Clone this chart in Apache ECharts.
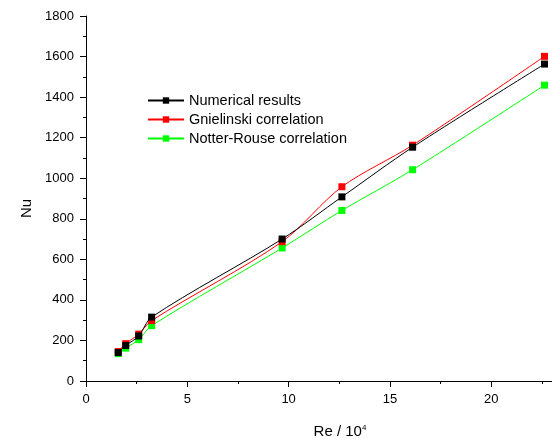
<!DOCTYPE html>
<html>
<head>
<meta charset="utf-8">
<script src="https://cdn.jsdelivr.net/npm/echarts@6/dist/echarts.min.js"></script>
<style>html,body{margin:0;padding:0;background:#fff;overflow:hidden}#c{width:552px;height:439px}</style>
</head>
<body>
<div id="c"></div>
<script>
const reValues = [1.59, 1.96, 2.6, 3.24, 9.68, 12.63, 16.12, 22.63];
const numerical = [140, 175, 222, 315, 700, 908, 1153, 1563];
const gnielinski = [145, 184, 231, 298, 687, 958, 1163, 1601];
const notterRouse = [135, 162, 204, 273, 656, 841, 1042, 1459];
const seriesNames = ['Numerical results', 'Gnielinski correlation', 'Notter-Rouse correlation'];
const seriesColors = ['#000000', '#ff0000', '#00ff00'];
const seriesValues = [numerical, gnielinski, notterRouse];

const FONT = 'Liberation Sans, Arial, sans-serif';
const chart = echarts.init(document.getElementById('c'), null, {renderer: 'canvas'});
chart.setOption({
  animation: false,
  backgroundColor: '#fff',
  grid: {left: 86, top: 16, width: 466, height: 365, containLabel: false, outerBoundsMode: 'none'},
  legend: {
    orient: 'vertical', left: 147, top: 93, itemGap: 4, padding: 0,
    itemWidth: 36, itemHeight: 8,
    textStyle: {fontFamily: FONT, fontSize: 14.5, color: '#000'},
    data: seriesNames
  },
  xAxis: {
    type: 'value', min: 0, max: 23, interval: 5,
    name: '{a|Re / 10}{s|4}', nameLocation: 'middle', nameGap: 43,
    nameTextStyle: {padding: [0, 0, 0, 42], rich: {a: {fontFamily: FONT, fontSize: 15, color: '#000'}, s: {fontFamily: FONT, fontSize: 8, color: '#000', verticalAlign: 'top', padding: [0, 0, 8, 0]}}},
    axisLine: {show: true, onZero: false, lineStyle: {color: '#000', width: 1}},
    axisTick: {show: true, length: 6, lineStyle: {color: '#000'}},
    minorTick: {show: true, splitNumber: 2, length: 3, lineStyle: {color: '#000'}},
    axisLabel: {fontFamily: FONT, fontSize: 13, color: '#000', margin: 12, showMaxLabel: false},
    splitLine: {show: false}
  },
  yAxis: {
    type: 'value', min: 0, max: 1800, interval: 200,
    name: 'Nu', nameLocation: 'middle', nameGap: 43, nameRotate: 90,
    nameTextStyle: {fontFamily: FONT, fontSize: 15, color: '#000', padding: [0, 20, 0, 0]},
    axisLine: {show: true, lineStyle: {color: '#000', width: 1}},
    axisTick: {show: true, length: 6, lineStyle: {color: '#000'}},
    minorTick: {show: true, splitNumber: 2, length: 3, lineStyle: {color: '#000'}},
    axisLabel: {fontFamily: FONT, fontSize: 13, color: '#000', margin: 12, formatter: v => String(v)},
    splitLine: {show: false}
  },
  series: seriesNames.map((n, i) => ({
    name: n, type: 'line', smooth: 0.3,
    data: reValues.map((x, j) => [x, seriesValues[i][j]]),
    symbol: 'rect', symbolSize: 7,
    itemStyle: {color: seriesColors[i]},
    lineStyle: {color: seriesColors[i], width: 1},
    z: 3 - i
  }))
});
</script>
</body>
</html>
